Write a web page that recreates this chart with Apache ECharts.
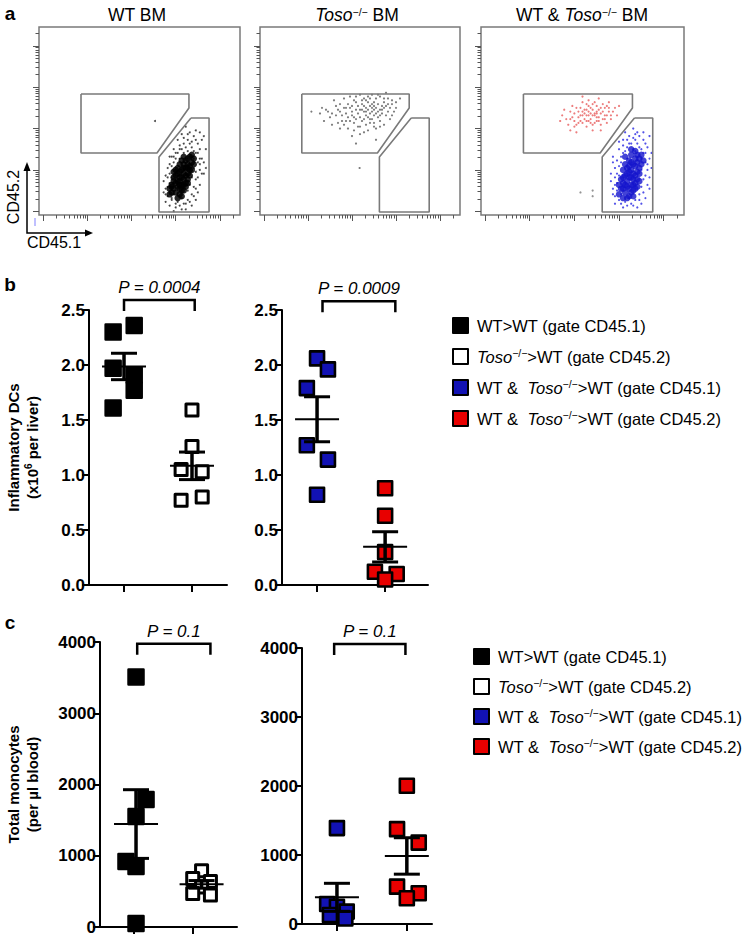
<!DOCTYPE html>
<html><head><meta charset="utf-8">
<script src="https://cdn.jsdelivr.net/npm/echarts@6/dist/echarts.min.js"></script>
<style>html,body{margin:0;padding:0;background:#fff}#c{width:752px;height:940px}</style>
</head><body><div id="c"></div>
<script>
// ---------------- DATA ----------------
// Panel a: flow plot titles and gate polygons (axis units 0-100)
const flowTitles = ['WT BM', '{i|Toso}{s|−/−}{t| BM}', '{t|WT & }{i|Toso}{s|−/−}{t| BM}'];
const gateA = [[20.9,64.4],[74.6,64.4],[74.6,56.9],[58.7,33.0],[20.9,33.0],[20.9,64.4]];
const gateB = [[75.6,51.6],[84.6,51.6],[84.6,1.6],[59.7,1.6],[59.7,30.9],[75.6,51.6]];
const flowDecades = [2, 24, 46, 68, 90];
// plot 1 (WT BM) black events
const wtCore = [[70,20],[72,22],[71,24],[73,25],[69,18],[68,17],[74,27],[72,19],[70,23],[73,21],[71,16],[67,20],[75,24],[69,22],[72,27],[74,22],[70,14],[68,21],[73,29],[71,20],[69,25],[76,28],[66,15],[72,13],[75,31],[70,18],[72,25],[74,19],
  [65,11],[66,12],[67,14],[68,12],[69,15],[70,11],[71,13],[66,16],[67,18],[68,24],[70,27],[71,29],[72,31],[73,17],[74,30],[75,26],[76,24],[77,27],[77,30],[69,9],[71,10],[73,15],[74,17],[75,21],[76,32],[65,14],[67,23],[70,16],[72,16],[74,25]];
const wtHalo = [[64,10],[65,22],[66,8],[63,14],[67,28],[68,33],[70,35],[72,38],[74,40],[76,36],[78,33],[79,28],[80,24],[78,19],[77,15],[76,11],[74,8],[72,6],[69,7],[67,11],[65,17],[66,26],[70,30],[74,34],[77,30],[79,38],[81,30],[82,42],[75,44],[73,47],[78,45],[62,18],[64,25],[68,4],[71,9],[80,16],[82,22],[83,35],[76,20],[63,7],[69,40],[71,43],[78,8],[80,44],[66,31],[74,13],[77,25],[65,5],[73,3],[57.7,50],
  [64,20],[63,11],[66,20],[67,31],[69,33],[71,35],[73,36],[75,38],[77,34],[79,33],[80,27],[81,22],[79,20],[78,14],[77,10],[75,7],[73,6],[70,5],[68,6],[66,9],[64,15],[65,27],[68,30],[72,33],[76,39],[78,40],[80,35],[81,40],[77,42],[74,43],[72,41],[70,37],[67,35],[65,31],[63,21],[62,12],[82,28],[83,25],[79,12],[76,5],[67,2],[71,3],[75,16],[78,23],[80,30]];
// plot 2 (Toso-/- BM) grey events
const koEvents = [[40,55],[45,57],[48,60],[50,52],[52,55],[55,58],[57,53],[60,56],[62,60],[58,62],[53,61],[47,52],[43,50],[38,58],[35,52],[33,56],[30,54],[42,62],[50,64],[56,64],[63,53],[65,57],[67,55],[60,50],[55,49],[49,47],[44,46],[52,58],[54,52],[58,57],[46,55],[51,50],[57,60],[61,54],[48,56],[53,57],[56,55],[59,59],[41,53],[39,49],[36,48],[64,62],[66,59],[62,48],[54,45],[50,43],[46,42],[58,46],[68,60],[70,62],[37,61],[32,50],[44,59],[49,58],[52,62],[55,51],[57,56],[59,52],[61,58],[47,49],[43,54],[53,53],[56,59],[51,56],[54,60],[60,63],[65,51],[45,63],[40,46],[63,65],[48,38],[58,40],[25.7,55],[49.8,25],
  [42,57],[46,53],[49,54],[51,59],[53,55],[55,54],[57,58],[59,55],[61,56],[63,58],[56,51],[52,51],[48,51],[45,50],[42,48],[38,53],[34,55],[40,59],[47,61],[55,62],[60,53],[64,55],[66,53],[62,57],[58,54],[54,56],[50,56],[46,58],[44,52],[50,47],[53,48],[57,49],[60,47],[52,44],[47,45],[43,57],[39,56],[36,54],[31,57],[62,62],[59,64],[51,61],[54,63],[48,63],[57,47],[64,59],[68,57],[66,61],[41,50],[56,57]];
// plot 3 (mixed BM) red and blue events
const mixRed = [[45,52],[48,55],[50,53],[52,56],[54,51],[56,54],[58,52],[60,55],[62,53],[57,58],[53,58],[50,49],[47,48],[44,55],[42,51],[40,53],[55,48],[59,48],[63,57],[65,55],[52,53],[55,56],[57,50],[49,57],[51,51],[61,51],[46,50],[54,54],[58,56],[60,59],[48,52],[56,60],[52,47],[62,49],[64,51],[66,57],[43,48],[39,50],[67,53],[53,61],[50,60],[45,58],[55,45],[59,45],[47,44],[56,53],[53,50],[61,57],[54,57],[51,54],[57,54],[49,50],[63,60],[41,56],[68,58],[58,62],[44,45],[50,63],
  [46,54],[49,53],[51,56],[53,55],[55,53],[57,55],[59,54],[61,53],[63,55],[58,50],[56,49],[52,50],[48,49],[46,47],[44,51],[47,57],[52,59],[55,59],[59,57],[62,58],[64,53],[60,51],[57,52],[54,49],[50,55],[53,53]];
const mixBlueCore = [[73,20],[75,22],[74,24],[76,26],[72,18],[71,16],[77,28],[75,19],[73,23],[76,21],[74,16],[70,20],[78,25],[72,22],[75,27],[77,23],[73,14],[71,21],[76,30],[74,20],[72,25],[78,30],[70,14],[75,13],[77,32],[74,28],[73,10],[76,17],
  [68,11],[69,14],[70,17],[71,12],[72,15],[74,12],[75,16],[69,19],[70,24],[71,27],[73,29],[74,32],[76,34],[77,19],[78,22],[79,27],[79,32],[72,9],[75,10],[77,15],[78,18],[68,16],[70,9],[73,26],[76,14],[80,29],[71,31],[74,35]];
const mixBlueHalo = [[66,10],[67,22],[68,8],[65,14],[69,28],[70,33],[72,36],[74,38],[76,40],[78,36],[80,33],[81,28],[82,24],[80,19],[79,15],[78,11],[76,8],[74,6],[71,7],[69,11],[67,17],[68,26],[72,30],[76,34],[79,30],[81,38],[83,30],[83,42],[77,44],[75,46],[80,44],[64,18],[66,25],[70,4],[73,9],[82,16],[83,20],[79,6],[70,40],[73,42],[66,6],[68,35],[75,35],[79,24],[65,28],
  [66,20],[65,11],[68,21],[69,31],[71,34],[73,38],[75,41],[77,38],[79,35],[81,33],[82,27],[81,21],[80,12],[78,8],[75,5],[72,5],[69,6],[67,13],[66,16],[67,29],[70,37],[72,40],[78,42],[80,40],[82,36],[84,33],[84,25],[83,14],[81,9],[77,4],[64,22],[65,31],[68,39],[71,44],[76,43]];
const mixGrey = [[49,12],[55,13],[55,10]];

// Series names (legend)
const names = ['WT>WT (gate CD45.1)', 'Toso−/−>WT (gate CD45.2)', 'WT & Toso−/−>WT (gate CD45.1)', 'WT & Toso−/−>WT (gate CD45.2)'];
const legendRich = {
  'WT>WT (gate CD45.1)': '{sp|}{t|WT>WT (gate CD45.1)}',
  'Toso−/−>WT (gate CD45.2)': '{sp|}{i|Toso}{s|−/−}{t|>WT (gate CD45.2)}',
  'WT & Toso−/−>WT (gate CD45.1)': '{sp|}{t|WT &  }{i|Toso}{s|−/−}{t|>WT (gate CD45.1)}',
  'WT & Toso−/−>WT (gate CD45.2)': '{sp|}{t|WT &  }{i|Toso}{s|−/−}{t|>WT (gate CD45.2)}'
};

// Panel b: inflammatory DCs (x10^6 per liver)
const bWT    = [2.30, 2.36, 1.97, 1.91, 1.77, 1.61];
const bKO    = [1.59, 1.26, 1.05, 1.03, 0.77, 0.80];
const bMixWT = [2.06, 1.96, 1.79, 1.27, 1.14, 0.82];
const bMixKO = [0.88, 0.63, 0.30, 0.12, 0.10, 0.05];
const bP = ['P = 0.0004', 'P = 0.0009'];
const bTicks = [0, 0.5, 1.0, 1.5, 2.0, 2.5];
// Panel c: total monocytes (per µl blood)
const cWT    = [3510, 1790, 1550, 920, 850, 50];
const cKO    = [790, 680, 640, 560, 470, 450];
const cMixWT = [1390, 290, 250, 180, 130, 80];
const cMixKO = [2003, 1375, 1180, 541, 445, 373];
const cP = ['P = 0.1', 'P = 0.1'];
const cTicks = [0, 1000, 2000, 3000, 4000];

// column positions (group x) and horizontal scatter of points within a column
const groupX  = { bL:[1,2], bR:[1,2], cL:[1.04,2.15], cR:[1,2] };
const jit = {
  bWT:[-0.16,0.15,-0.16,0.15,0.15,-0.16], bKO:[0,0,-0.16,0.15,-0.16,0.15],
  bMixWT:[0,0.16,-0.15,-0.15,0.16,0], bMixKO:[0,0,0,-0.15,0.17,0],
  cWT:[0,0.17,0,-0.17,0,0], cKO:[0,-0.15,0.15,0,-0.15,0.15],
  cMixWT:[0,-0.14,0,0.14,-0.1,0.12], cMixKO:[0,-0.14,0.17,-0.14,0.17,0]
};
// bracket ends [x1, x2, y-of-leg-bottom]
const brackets = { bL:[1.0,2.04,2.49], bR:[1.08,2.15,2.48], cL:[1.06,2.30,3820], cR:[0.96,1.98,3900] };

// ---------------- CHART ----------------
const FONT = '"Liberation Sans", Arial, Helvetica, sans-serif';
const chart = echarts.init(document.getElementById('c'), null, {renderer:'svg'});

const flowMinor = [];
flowDecades.forEach((d)=>{ for(let k=2;k<=9;k++){ const v=d+22*Math.log10(k); if(v<100) flowMinor.push(v);} });

function meanSem(a){const n=a.length,m=a.reduce((s,v)=>s+v,0)/n;const sd=Math.sqrt(a.reduce((s,v)=>s+(v-m)*(v-m),0)/(n-1));return [m,sd/Math.sqrt(n)];}
function pts(vals, j, gx){ return vals.map((v,i)=>[gx+j[i], v]); }

const flowGrids = [
  {left:39, top:27, width:201, height:188},
  {left:260, top:27, width:200, height:188},
  {left:481, top:27, width:203, height:188}
];
const grids = flowGrids.map(g=>Object.assign({show:true, borderColor:'#7a7a7a', borderWidth:1.5, backgroundColor:'transparent'}, g)).concat([
  {left:89, top:310, width:138, height:275},
  {left:282, top:310, width:146, height:275},
  {left:100, top:642, width:137, height:285},
  {left:302, top:648, width:130, height:276}
]);

const xAxes = [], yAxes = [];
for (let i=0;i<3;i++){
  xAxes.push({gridIndex:i, type:'value', min:0, max:100, axisLine:{show:false}, axisTick:{show:true, customValues:flowDecades, length:6, lineStyle:{color:'#555', width:1}}, axisLabel:{show:false}, splitLine:{show:false}});
  yAxes.push({gridIndex:i, type:'value', min:0, max:100, axisLine:{show:false}, axisTick:{show:true, customValues:flowDecades, length:6, lineStyle:{color:'#555', width:1}}, axisLabel:{show:false}, splitLine:{show:false}});
}
for (let i=0;i<3;i++){
  xAxes.push({gridIndex:i, type:'value', position:'bottom', min:0, max:100, axisLine:{show:false}, axisTick:{show:true, customValues:flowMinor, length:3.5, lineStyle:{color:'#555', width:1}}, axisLabel:{show:false}, splitLine:{show:false}});
  yAxes.push({gridIndex:i, type:'value', position:'left', min:0, max:100, axisLine:{show:false}, axisTick:{show:true, customValues:flowMinor, length:3.5, lineStyle:{color:'#555', width:1}}, axisLabel:{show:false}, splitLine:{show:false}});
}
const axLine = {show:true, onZero:false, lineStyle:{color:'#000', width:2}};
const axTick = {show:true, length:7, lineStyle:{color:'#000', width:2}};
const nameRich = { b:{fontSize:15, fontWeight:'bold', fontFamily:FONT, color:'#000', lineHeight:19}, s:{fontSize:10, fontWeight:'bold', fontFamily:FONT, color:'#000', verticalAlign:'top', lineHeight:10} };
function panelX(grid, min, max){
  return {gridIndex:grid, type:'value', min, max, axisLine:axLine, axisTick:Object.assign({customValues:[1,2]}, axTick), axisLabel:{show:false}, splitLine:{show:false}};
}
function panelY(grid, max, interval, fmt, name, gap){
  const o = {gridIndex:grid, type:'value', min:0, max, interval, axisLine:axLine, axisTick:axTick,
    axisLabel:{fontSize:17, fontWeight:'bold', fontFamily:FONT, color:'#000', margin:4, formatter:fmt}, splitLine:{show:false}};
  if (name){ o.name = name; o.nameLocation='middle'; o.nameGap=gap; o.nameTextStyle={rich:nameRich, fontSize:15, fontWeight:'bold', fontFamily:FONT, color:'#000', lineHeight:19}; }
  return o;
}
xAxes.push(panelX(3, 0.485, 2.515), panelX(4, 0.485, 2.63), panelX(5, 0.43, 2.75), panelX(6, 0.5, 2.36));
yAxes.push(
  panelY(3, bTicks[bTicks.length-1], bTicks[1]-bTicks[0], v=>v.toFixed(1), '{b|Inflammatory DCs}\n{b|(x10}{s|6}{b| per liver)}', 47),
  panelY(4, bTicks[bTicks.length-1], bTicks[1]-bTicks[0], v=>v.toFixed(1)),
  panelY(5, cTicks[cTicks.length-1], cTicks[1]-cTicks[0], v=>String(v), '{b|Total monocytes}\n{b|(per µl blood)}', 58),
  panelY(6, cTicks[cTicks.length-1], cTicks[1]-cTicks[0], v=>String(v))
);

const series = [];
// flow plots
for (let i=0;i<3;i++){
  [gateA, gateB].forEach(g=>series.push({type:'line', xAxisIndex:i, yAxisIndex:i, data:g, showSymbol:false, symbol:'none', silent:true, lineStyle:{color:'#7a7a7a', width:1.6}, z:3}));
}
function dots(i, data, color, size, op){ series.push({type:'scatter', xAxisIndex:i, yAxisIndex:i, data, symbol:'circle', symbolSize:size, silent:true, itemStyle:{color, opacity:op}, z:2}); }
dots(0, wtHalo, '#333', 2, 0.9);
dots(0, wtCore, '#000', 6.5, 0.85);
dots(1, koEvents, '#666', 2.2, 0.85);
dots(2, mixRed, '#ea6f6f', 2.2, 0.9);
dots(2, mixBlueHalo, '#4040e6', 2.2, 0.9);
dots(2, mixBlueCore, '#1414cc', 6.5, 0.8);
dots(2, mixGrey, '#888', 2.2, 0.9);

// column scatter panels
const styles = [
  {color:'#000', borderColor:'#000', borderWidth:2.5, size:15},
  {color:'#fff', borderColor:'#000', borderWidth:3, size:12},
  {color:'#1212b4', borderColor:'#000', borderWidth:2.6, size:14},
  {color:'#e80000', borderColor:'#000', borderWidth:2.6, size:14}
];
function colSeries(ax, nameIdx, data){
  const s = styles[nameIdx];
  series.push({type:'scatter', name:names[nameIdx], xAxisIndex:ax, yAxisIndex:ax, data, symbol:'rect', symbolSize:s.size,
    itemStyle:{color:s.color, borderColor:s.borderColor, borderWidth:s.borderWidth, borderJoin:'round', opacity:1}, z:4});
}
colSeries(6, 0, pts(bWT, jit.bWT, groupX.bL[0]));
colSeries(6, 1, pts(bKO, jit.bKO, groupX.bL[1]));
colSeries(7, 2, pts(bMixWT, jit.bMixWT, groupX.bR[0]));
colSeries(7, 3, pts(bMixKO, jit.bMixKO, groupX.bR[1]));
colSeries(8, 0, pts(cWT, jit.cWT, groupX.cL[0]));
colSeries(8, 1, pts(cKO, jit.cKO, groupX.cL[1]));
colSeries(9, 2, pts(cMixWT, jit.cMixWT, groupX.cR[0]));
colSeries(9, 3, pts(cMixKO, jit.cMixKO, groupX.cR[1]));

function errRender(params, api){
  const x=api.value(0), m=api.value(1), s=api.value(2);
  const c=api.coord([x,m]), hi=api.coord([x,m+s]), lo=api.coord([x,m-s]);
  const st=(w)=>({stroke:'#000', lineWidth:w});
  return {type:'group', children:[
    {type:'line', shape:{x1:c[0]-22,y1:c[1],x2:c[0]+22,y2:c[1]}, style:st(2)},
    {type:'line', shape:{x1:c[0],y1:hi[1],x2:c[0],y2:lo[1]}, style:st(3.5)},
    {type:'line', shape:{x1:c[0]-13,y1:hi[1],x2:c[0]+13,y2:hi[1]}, style:st(3)},
    {type:'line', shape:{x1:c[0]-13,y1:lo[1],x2:c[0]+13,y2:lo[1]}, style:st(3)}
  ]};
}
function errSeries(ax, gx, groups){
  series.push({type:'custom', xAxisIndex:ax, yAxisIndex:ax, renderItem:errRender, silent:true, z:6,
    data: groups.map((g,i)=>{const ms=meanSem(g); return [gx[i], ms[0], ms[1]];})});
}
errSeries(6, groupX.bL, [bWT, bKO]);
errSeries(7, groupX.bR, [bMixWT, bMixKO]);
errSeries(8, groupX.cL, [cWT, cKO]);
errSeries(9, groupX.cR, [cMixWT, cMixKO]);

function bracketSeries(ax, br, text){
  series.push({type:'custom', xAxisIndex:ax, yAxisIndex:ax, silent:true, clip:false, z:6, data:[br],
    renderItem:(params, api)=>{
      const a=api.coord([api.value(0), api.value(2)]), b=api.coord([api.value(1), api.value(2)]);
      const top=a[1]-11;
      return {type:'group', children:[
        {type:'polyline', shape:{points:[[a[0],a[1]],[a[0],top],[b[0],top],[b[0],a[1]]]}, style:{stroke:'#000', lineWidth:2.5, fill:null}},
        {type:'text', x:(a[0]+b[0])/2, y:top-4, style:{text, fontSize:17, fontStyle:'italic', fontFamily:FONT, fill:'#000', align:'center', verticalAlign:'bottom'}}
      ]};
    }});
}
bracketSeries(6, brackets.bL, bP[0]);
bracketSeries(7, brackets.bR, bP[1]);
bracketSeries(8, brackets.cL, cP[0]);
bracketSeries(9, brackets.cR, cP[1]);

const legRich = {
  sp:{width:4},
  t:{fontSize:16.5, fontFamily:FONT, color:'#000', lineHeight:19},
  i:{fontSize:16.5, fontFamily:FONT, color:'#000', fontStyle:'italic', lineHeight:19},
  s:{fontSize:10.5, fontFamily:FONT, color:'#000', verticalAlign:'top', lineHeight:9}
};
function mkLegend(left, top, gap){
  return {left, top, orient:'vertical', itemWidth:15, itemHeight:15, itemGap:gap, selectedMode:false,
    data:names, formatter:n=>legendRich[n], textStyle:{fontSize:16.5, fontFamily:FONT, color:'#000', rich:legRich}};
}

const titleRich = {t:{fontSize:17.5, fontFamily:FONT, fill:'#000'}, i:{fontSize:17.5, fontFamily:FONT, fontStyle:'italic', fill:'#000'}, s:{fontSize:10.5, fontFamily:FONT, fill:'#000', verticalAlign:'top', lineHeight:9}};
const titleX = [137, 357, 582];
const graphic = [
  {type:'text', x:10, y:13, style:{text:'a', fontSize:19, fontWeight:'bold', fontFamily:FONT, fill:'#000', align:'center', verticalAlign:'middle'}},
  {type:'text', x:10, y:284, style:{text:'b', fontSize:19, fontWeight:'bold', fontFamily:FONT, fill:'#000', align:'center', verticalAlign:'middle'}},
  {type:'text', x:10, y:622, style:{text:'c', fontSize:19, fontWeight:'bold', fontFamily:FONT, fill:'#000', align:'center', verticalAlign:'middle'}},
  {type:'polyline', shape:{points:[[27,168],[27,233],[88,233]]}, style:{stroke:'#000', lineWidth:1.5, fill:null}},
  {type:'polygon', shape:{points:[[23.5,171],[27,162],[30.5,171]]}, style:{fill:'#000'}},
  {type:'polygon', shape:{points:[[85,229.5],[93,233],[85,236.5]]}, style:{fill:'#000'}},
  {type:'line', shape:{x1:35,y1:218,x2:35,y2:226}, style:{stroke:'#8080ff', lineWidth:1}},
  {type:'text', x:13, y:197, rotation:Math.PI/2, style:{text:'CD45.2', fontSize:16, fontFamily:FONT, fill:'#000', align:'center', verticalAlign:'middle'}},
  {type:'text', x:54, y:242, style:{text:'CD45.1', fontSize:16, fontFamily:FONT, fill:'#000', align:'center', verticalAlign:'middle'}}
];
flowTitles.forEach((t,i)=>graphic.push({type:'text', x:titleX[i], y:15, style:{text: t.indexOf('{')>=0 ? t : '{t|'+t+'}', rich:titleRich, fontSize:17.5, fontFamily:FONT, fill:'#000', align:'center', verticalAlign:'middle'}}));

chart.setOption({
  animation:false,
  backgroundColor:'#fff',
  grid:grids, xAxis:xAxes, yAxis:yAxes, series,
  legend:[mkLegend(447, 312, 13), mkLegend(468, 643, 12)],
  graphic
});
</script></body></html>
